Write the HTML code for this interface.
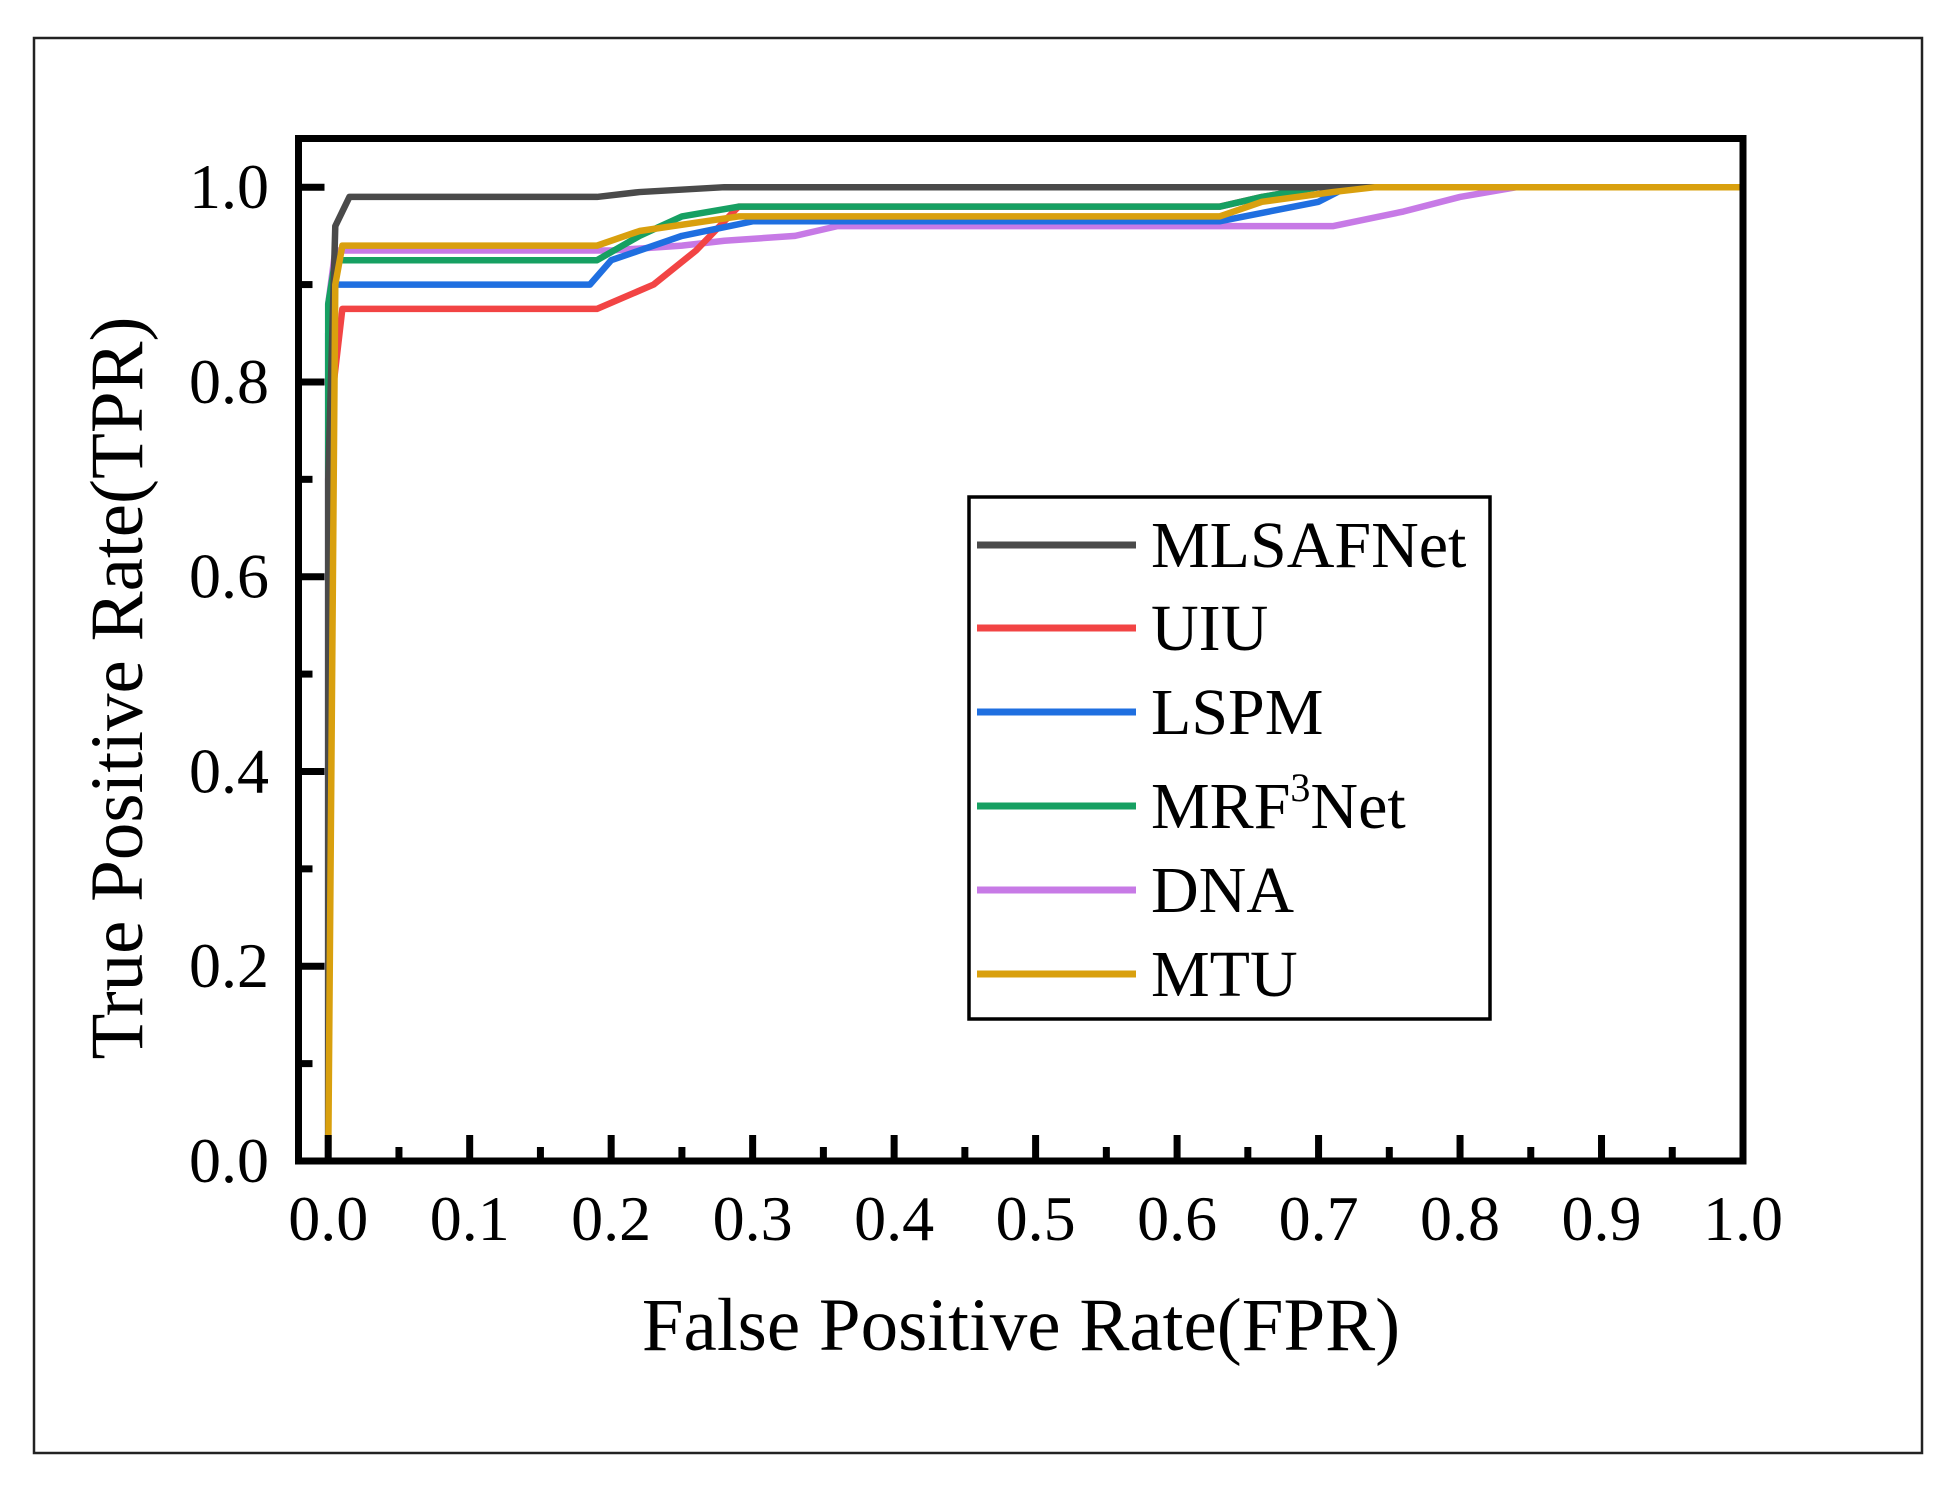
<!DOCTYPE html>
<html><head><meta charset="utf-8"><style>
html,body{margin:0;padding:0;background:#fff;}
svg{display:block;font-family:"Liberation Serif",serif;}
</style></head><body>
<svg id="chart" width="1949" height="1487" viewBox="0 0 1949 1487" xmlns="http://www.w3.org/2000/svg">
<rect x="34" y="38" width="1888" height="1415" fill="#fff" stroke="#222" stroke-width="2.5"/>
<g id="plot"></g>
</svg>
<script>
const seriesNames = ["MLSAFNet","UIU","LSPM","MRF3Net","DNA","MTU"];
const seriesColors = ["#4a4a4a","#f24444","#1f6fe0","#16a062","#c77ae6","#d9a00e"];
const mlsafnet = [[0,0],[0,0.7],[0.005,0.96],[0.015,0.99],[0.19,0.99],[0.22,0.995],[0.28,1.0],[1,1]];
const uiu = [[0,0],[0,0.75],[0.01,0.875],[0.19,0.875],[0.23,0.9],[0.26,0.935],[0.29,0.98],[0.63,0.98],[0.66,0.99],[0.7,1],[1,1]];
const lspm = [[0,0],[0,0.85],[0.005,0.9],[0.185,0.9],[0.2,0.925],[0.25,0.95],[0.3,0.965],[0.63,0.965],[0.7,0.985],[0.72,1],[1,1]];
const mrf3net = [[0,0],[0,0.88],[0.005,0.925],[0.19,0.925],[0.22,0.95],[0.25,0.97],[0.29,0.98],[0.63,0.98],[0.66,0.99],[0.7,1],[1,1]];
const dna = [[0,0],[0,0.88],[0.005,0.935],[0.2,0.935],[0.25,0.94],[0.28,0.945],[0.33,0.95],[0.36,0.96],[0.71,0.96],[0.76,0.975],[0.8,0.99],[0.84,1],[1,1]];
const mtu = [[0,0],[0.005,0.9],[0.01,0.94],[0.19,0.94],[0.22,0.955],[0.29,0.97],[0.63,0.97],[0.66,0.985],[0.71,0.995],[0.74,1],[1,1]];
const xTicks = [0,0.1,0.2,0.3,0.4,0.5,0.6,0.7,0.8,0.9,1.0];
const yTicks = [0,0.2,0.4,0.6,0.8,1.0];
const xTickLabels = ["0.0","0.1","0.2","0.3","0.4","0.5","0.6","0.7","0.8","0.9","1.0"];
const yTickLabels = ["0.0","0.2","0.4","0.6","0.8","1.0"];

const NS="http://www.w3.org/2000/svg";
const g=document.getElementById('plot');
const L=298.5,R=1743,T=138.5,B=1161;
const xMin=-0.021,xMax=1.0,yMin=0,yMax=1.05;
const X=v=>L+(v-xMin)/(xMax-xMin)*(R-L);
const Y=v=>B-(v-yMin)/(yMax-yMin)*(B-T);
function mk(tag,attrs){const e=document.createElementNS(NS,tag);for(const k in attrs)e.setAttribute(k,attrs[k]);g.appendChild(e);return e;}

const data=[mlsafnet,uiu,lspm,mrf3net,dna,mtu];
const order=[4,1,2,3,0,5];
order.forEach(i=>{
  const p=mk('polyline',{points:data[i].map(d=>X(d[0])+','+Y(d[1])).join(' '),fill:'none',stroke:seriesColors[i],'stroke-width':6.5,'stroke-linejoin':'round'});
  
  
});

const frame=mk('rect',{x:L,y:T,width:R-L,height:B-T,fill:'none',stroke:'#000','stroke-width':7});



xTicks.forEach((v,i)=>{
  const t=mk('line',{x1:X(v),x2:X(v),y1:B,y2:B-26,stroke:'#000','stroke-width':7});
  
  
  if(i<xTicks.length-1){
    const m=mk('line',{x1:X(v+0.05),x2:X(v+0.05),y1:B,y2:B-14,stroke:'#000','stroke-width':7});
    
    
  }
  const tx=mk('text',{x:X(v),y:1240,'font-size':64,'text-anchor':'middle',fill:'#000'});
  tx.textContent=xTickLabels[i];
  
  
});
yTicks.forEach((v,i)=>{
  const t=mk('line',{x1:L,x2:L+26,y1:Y(v),y2:Y(v),stroke:'#000','stroke-width':7});
  
  
  if(i<yTicks.length-1){
    const m=mk('line',{x1:L,x2:L+14,y1:Y(v+0.1),y2:Y(v+0.1),stroke:'#000','stroke-width':7});
    
    
  }
  const tx=mk('text',{x:269,y:Y(v)+21,'font-size':64,'text-anchor':'end',fill:'#000'});
  tx.textContent=yTickLabels[i];
  
  
});

const xt=mk('text',{x:1021,y:1350,'font-size':75,'text-anchor':'middle',fill:'#000'});
xt.textContent='False Positive Rate(FPR)';


const yt=mk('text',{x:0,y:0,'font-size':75,'text-anchor':'middle',fill:'#000',transform:'translate(142,688) rotate(-90)'});
yt.textContent='True Positive Rate(TPR)';



const lb=mk('rect',{x:969,y:497,width:521,height:522,fill:'#fff',stroke:'#000','stroke-width':3.5});


const ly=[545,628,712,806,890,974];
seriesNames.forEach((n,i)=>{
  const l=mk('line',{x1:977,x2:1136,y1:ly[i],y2:ly[i],stroke:seriesColors[i],'stroke-width':7});
  
  
  const t=mk('text',{x:1151,y:ly[i]+22,'font-size':66,fill:'#000'});
  if(n==='MRF3Net'){t.innerHTML='MRF<tspan font-size="40" dy="-27">3</tspan><tspan dy="27">Net</tspan>';}
  else t.textContent=n;
  
  
});
</script>
</body></html>
